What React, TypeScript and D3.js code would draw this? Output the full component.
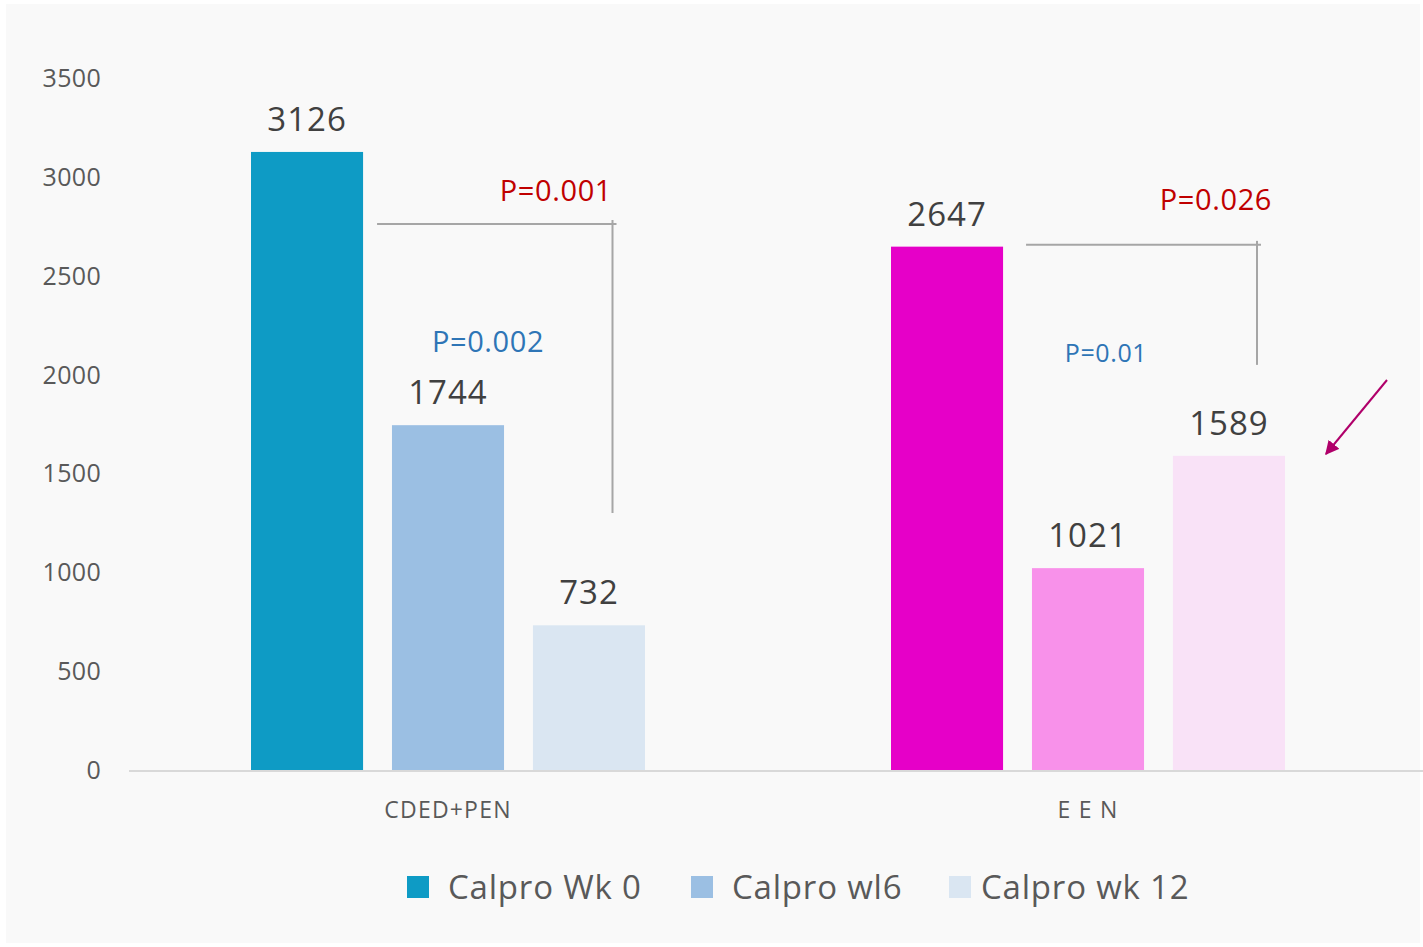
import React, { useEffect, useRef } from 'react';
import * as d3 from 'd3';

const categories = ['CDED+PEN', 'E E N'];
const seriesNames = ['Calpro Wk 0', 'Calpro wl6', 'Calpro wk 12'];
const cdedValues = [3126, 1744, 732];
const eenValues = [2647, 1021, 1589];
const yTicks = [0, 500, 1000, 1500, 2000, 2500, 3000, 3500];
const cdedColors = ['#0e9bc5', '#9bbfe3', '#dae6f2'];
const eenColors = ['#e600c8', '#f891ea', '#f9e2f7'];

// p-value labels for each group
const pTests = [
  { group: 0, label: 'P=0.001', color: '#c00000' },
  { group: 0, label: 'P=0.002', color: '#2e75b6' },
  { group: 1, label: 'P=0.026', color: '#c00000' },
  { group: 1, label: 'P=0.01', color: '#2e75b6' },
];

const W = 1423;
const H = 947;
const FONT = '"Open Sans", "Noto Sans", sans-serif';

const App: React.FC = () => {
  const svgRef = useRef<SVGSVGElement>(null);

  useEffect(() => {
    if (!svgRef.current) return;
    const svg = d3.select(svgRef.current);
    svg.selectAll('*').remove();

    // panel background
    svg.append('rect').attr('x', 6).attr('y', 4).attr('width', 1414).attr('height', 939).attr('fill', '#f9f9f9');

    const y = d3.scaleLinear().domain([0, 3500]).range([770, 78]);
    const x0 = d3.scaleBand().domain(categories).range([128, 1408]);
    const x1 = d3.scaleBand().domain(seriesNames).range([123, 517]).paddingInner(0.205);

    // y tick labels
    svg.append('g')
      .selectAll('text')
      .data(yTicks)
      .enter()
      .append('text')
      .attr('x', 101)
      .attr('y', d => y(d) + 9)
      .attr('text-anchor', 'end')
      .attr('font-family', FONT)
      .attr('font-size', '25px')
      .attr('letter-spacing', '0.3px')
      .attr('fill', '#595959')
      .text(d => String(d));

    const groups = [cdedValues, eenValues];
    const colors = [cdedColors, eenColors];

    groups.forEach((vals, gi) => {
      const gx = x0(categories[gi]) as number;
      const g = svg.append('g').attr('transform', `translate(${gx},0)`);
      const data = vals.map((v, i) => ({ name: seriesNames[i], value: v, color: colors[gi][i] }));

      g.selectAll('rect')
        .data(data)
        .enter()
        .append('rect')
        .attr('x', d => x1(d.name) as number)
        .attr('y', d => y(d.value))
        .attr('width', x1.bandwidth())
        .attr('height', d => y(0) - y(d.value))
        .attr('fill', d => d.color);

      g.selectAll('text.val')
        .data(data)
        .enter()
        .append('text')
        .attr('class', 'val')
        .attr('x', d => (x1(d.name) as number) + x1.bandwidth() / 2)
        .attr('y', d => y(d.value) - 21)
        .attr('text-anchor', 'middle')
        .attr('font-family', FONT)
        .attr('font-size', '33px')
        .attr('letter-spacing', '1px')
        .attr('fill', '#404040')
        .text(d => String(d.value));

      // category label
      svg.append('text')
        .attr('x', gx + x0.bandwidth() / 2)
        .attr('y', 818)
        .attr('text-anchor', 'middle')
        .attr('font-family', FONT)
        .attr('font-size', '23px')
        .attr('letter-spacing', '1.2px')
        .attr('fill', '#595959')
        .text(categories[gi]);
    });

    // axis line
    svg.append('line')
      .attr('x1', 129).attr('x2', 1423)
      .attr('y1', y(0) + 1).attr('y2', y(0) + 1)
      .attr('stroke', '#d9d9d9').attr('stroke-width', 2);

    // brackets
    const bw = x1.bandwidth();
    const g0 = x0(categories[0]) as number;
    const g1 = x0(categories[1]) as number;
    const brackets = [
      { x1: g0 + (x1(seriesNames[0]) as number) + bw + 14, x2: g0 + (x1(seriesNames[2]) as number) + bw * 0.71, yTop: y(2762), yBot: y(1300) },
      { x1: g1 + (x1(seriesNames[0]) as number) + bw + 23, x2: g1 + (x1(seriesNames[2]) as number) + bw * 0.75, yTop: y(2656), yBot: y(2049) },
    ];
    brackets.forEach(b => {
      svg.append('line').attr('x1', b.x1).attr('x2', b.x2 + 4).attr('y1', b.yTop).attr('y2', b.yTop)
        .attr('stroke', '#a6a6a6').attr('stroke-width', 2);
      svg.append('line').attr('x1', b.x2).attr('x2', b.x2).attr('y1', b.yTop - 4).attr('y2', b.yBot)
        .attr('stroke', '#a6a6a6').attr('stroke-width', 2);
    });

    // p labels
    const pPos = [
      { x: 612, y: 201, size: 29, anchor: 'end' },
      { x: 488, y: 352, size: 29, anchor: 'middle' },
      { x: 1272, y: 210, size: 29, anchor: 'end' },
      { x: 1106, y: 362, size: 25, anchor: 'middle' },
    ];
    pTests.forEach((p, i) => {
      svg.append('text')
        .attr('x', pPos[i].x)
        .attr('y', pPos[i].y)
        .attr('text-anchor', pPos[i].anchor)
        .attr('font-family', FONT)
        .attr('font-size', `${pPos[i].size}px`)
        .attr('letter-spacing', '0.6px')
        .attr('fill', p.color)
        .text(p.label);
    });

    // arrow
    const defs = svg.append('defs');
    defs.append('marker')
      .attr('id', 'arrowHead')
      .attr('viewBox', '0 0 10 10')
      .attr('refX', 9).attr('refY', 5)
      .attr('markerWidth', 7).attr('markerHeight', 7)
      .attr('orient', 'auto')
      .append('path')
      .attr('d', 'M0,0 L10,5 L0,10 Z')
      .attr('fill', '#b0006a');
    svg.append('line')
      .attr('x1', 1387).attr('y1', 380)
      .attr('x2', 1326).attr('y2', 454)
      .attr('stroke', '#b0006a').attr('stroke-width', 2)
      .attr('marker-end', 'url(#arrowHead)');

    // legend
    const legendX = [407, 691, 949];
    seriesNames.forEach((name, i) => {
      svg.append('rect')
        .attr('x', legendX[i]).attr('y', 876)
        .attr('width', 22).attr('height', 22)
        .attr('fill', cdedColors[i]);
      svg.append('text')
        .attr('x', legendX[i] + (i === 2 ? 32 : 41))
        .attr('y', 899)
        .attr('font-family', FONT)
        .attr('font-size', '33px')
        .attr('letter-spacing', '0.8px')
        .attr('fill', '#595959')
        .text(name);
    });
  }, []);

  return (
    <svg
      ref={svgRef}
      width={W}
      height={H}
      style={{ position: 'absolute', left: 0, top: 0, background: '#ffffff' }}
    />
  );
};

export default App;
